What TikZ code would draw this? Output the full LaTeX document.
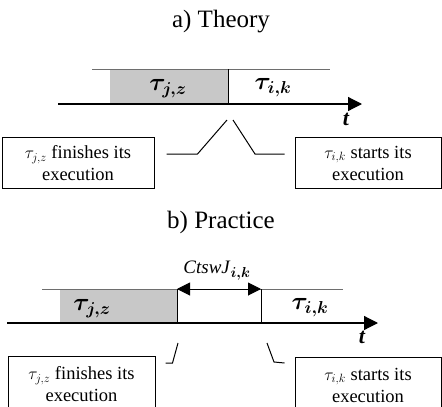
\documentclass[tikz,border=0pt]{standalone}
\usepackage{fontspec}
\setmainfont{Liberation Serif}
\usepackage{amsmath}
\usepackage{xcolor}
\usetikzlibrary{positioning,arrows.meta}
\definecolor{taskgray}{RGB}{200,200,200}
\definecolor{edgegray}{RGB}{110,110,110}

\begin{document}
\begin{tikzpicture}[x=1pt, y=-1pt,
    head/.style={font=\fontsize{25}{28}\selectfont},
    tasklbl/.style={font=\fontsize{24}{28}\selectfont\boldmath, inner sep=0pt},
    timelbl/.style={font=\fontsize{22}{24}\selectfont\bfseries\itshape, inner sep=0pt},
    note/.style={rectangle, draw, line width=1pt, align=center, inner sep=0pt, font=\fontsize{18.5}{22}\selectfont},
    axis/.style={line width=1.2pt, -{Triangle[length=14pt,width=14pt]}},
    rim/.style={edgegray, line width=0.8pt},
    call/.style={line width=1pt}
]
\useasboundingbox (0,0) rectangle (442,407);

% a) Theory
\node[head] (titleA) at (221,22) {a) Theory};

\fill[taskgray] (110,69) rectangle (228,104);
\draw[rim] (92,69) -- (330,69);
\draw[line width=1pt] (228,69) -- (228,104);
\draw[axis] (58,104) -- (362,104);

\node[tasklbl] (jzA) at (168,89) {$\tau_{j,z}$};
\node[tasklbl] (ikA) at (273,88) {$\tau_{i,k}$};
\node[timelbl] (tA) at (346,119) {t};

% notes
\node[note, minimum width=152pt, minimum height=51pt] (noteJA) at (78,163) {$\tau_{j,z}$ finishes its\\execution};
\node[note, minimum width=146pt, minimum height=51pt] (noteIA) at (368,163) {$\tau_{i,k}$ starts its\\execution};

\coordinate (finA) at (227,120);
\coordinate (startA) at (233,120);

\draw[call] ([shift={(12,-9)}]noteJA.east) -- ++(31,0) -- (finA);
\draw[call] (startA) -- ++(22,34) -- ([shift={(-10,-9)}]noteIA.west);

% b) Practice
\node[head] (titleB) at (221,222) {b) Practice};
\node[font=\fontsize{19}{22}\selectfont, inner sep=0pt] (ctsw) at (217,271) {\textit{CtswJ}$_{\boldsymbol{i,k}}$};

\fill[taskgray] (60,289) rectangle (177,323);
\draw[rim] (42,289) -- (343,289);
\draw[line width=1pt] (177,289) -- (177,323);
\draw[line width=1pt] (261,289) -- (261,323);
\draw[axis] (7,323) -- (378,323);

\coordinate (finB) at (177,289);
\coordinate (startB) at (261,289);
\draw[line width=1pt, {Triangle[length=13pt,width=13pt]}-{Triangle[length=13pt,width=13pt]}] (finB) -- (startB);

\node[tasklbl] (jzB) at (92,309) {$\tau_{j,z}$};
\node[tasklbl] (ikB) at (310,308) {$\tau_{i,k}$};
\node[timelbl] (tB) at (362,337) {t};

\node[note, minimum width=147pt, minimum height=56pt] (noteJB) at (81.5,384) {$\tau_{j,z}$ finishes its\\execution};
\node[note, minimum width=146pt, minimum height=56pt] (noteIB) at (368,385) {$\tau_{i,k}$ starts its\\execution};

\coordinate (finBc) at (178,343);
\coordinate (startBc) at (267,343);

\draw[call] ([shift={(10,-21)}]noteJB.east) -- ++(7,0) -- (finBc);
\draw[call] (startBc) -- ++(7,19) -- ([shift={(-10,-22)}]noteIB.west);
\end{tikzpicture}
\end{document}
